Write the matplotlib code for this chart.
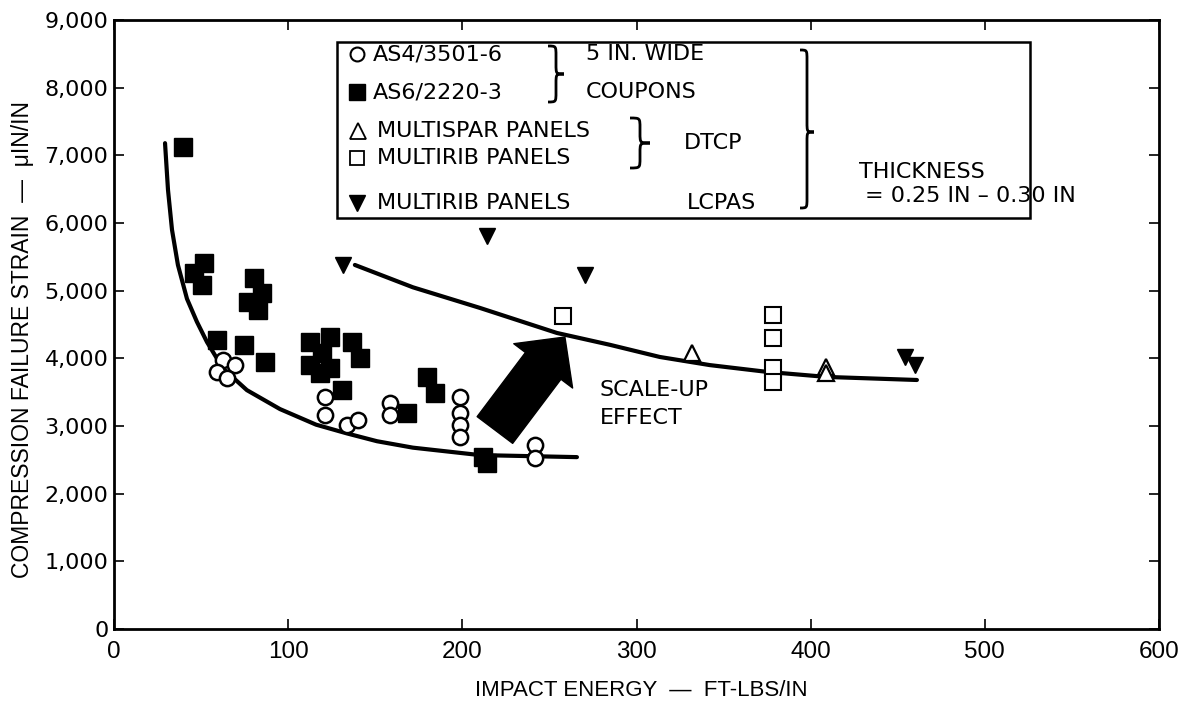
import matplotlib
matplotlib.use("Agg")
import matplotlib.pyplot as plt
from matplotlib.patches import Rectangle, FancyArrowPatch, ArrowStyle, PathPatch
from matplotlib.path import Path
from matplotlib.lines import Line2D
from matplotlib.ticker import FuncFormatter

# ---------------- data ----------------
# AS4/3501-6, 5 in. wide coupons (open circles)
as4_energy = [62.6, 59.1, 69.5, 64.9, 121.0, 121.0, 133.8, 140.0, 158.4, 158.4,
              198.6, 198.6, 198.6, 198.6, 242.0, 242.0]
as4_strain = [3975, 3800, 3900, 3710, 3430, 3160, 3015, 3090, 3340, 3160,
              3430, 3190, 3010, 2840, 2720, 2530]

# AS6/2220-3, 5 in. wide coupons (filled squares)
as6_energy = [39.6, 51.7, 45.9, 50.5, 80.4, 85.0, 76.9, 82.7, 59.1, 74.6, 86.7,
              112.5, 124.0, 119.4, 112.5, 124.0, 136.6, 141.2, 130.9, 118.0,
              179.7, 184.3, 168.2, 212.0, 214.0]
as6_strain = [7120, 5410, 5260, 5080, 5190, 4965, 4830, 4715, 4270, 4200, 3945,
              4240, 4315, 4080, 3900, 3855, 4240, 4005, 3530, 3780,
              3725, 3490, 3190, 2540, 2460]

# DTCP multispar panels (open triangles)
multispar_energy = [331.8, 408.7, 408.7]
multispar_strain = [4080, 3870, 3780]

# DTCP multirib panels (open squares)
multirib_energy = [257.8, 378.3, 378.3, 378.3, 378.3]
multirib_strain = [4620, 4640, 4300, 3855, 3650]

# LCPAS multirib panels (filled down triangles)
lcpas_energy = [131.5, 214.0, 270.4, 454.0, 459.8]
lcpas_strain = [5380, 5810, 5230, 4020, 3900]

# hand-faired trend lines
coupon_fit_energy = [29.3, 31.0, 33.3, 36.7, 41.9, 47.6, 53.4, 62.6, 76.3, 95.3,
                     116.0, 133.8, 151.0, 171.6, 210.1, 265.8]
coupon_fit_strain = [7180, 6490, 5900, 5380, 4880, 4540, 4240, 3850, 3530, 3250,
                     3020, 2890, 2775, 2680, 2570, 2540]
panel_fit_energy = [138.3, 171.6, 210.1, 254.3, 284.7, 313.4, 342.1, 374.9, 409.3, 461.0]
panel_fit_strain = [5380, 5050, 4745, 4375, 4200, 4020, 3900, 3800, 3725, 3680]

x_ticks = [0, 100, 200, 300, 400, 500, 600]
y_ticks = [0, 1000, 2000, 3000, 4000, 5000, 6000, 7000, 8000, 9000]

# ---------------- figure ----------------
W, H = 1190, 711
fig = plt.figure(figsize=(W / 100, H / 100), dpi=100)


def fx(x):
    return x / W


def fy(y):
    return 1 - y / H


ax = fig.add_axes([fx(114), fy(629), (1159 - 114) / W, (629 - 20) / H])
ax.set_xlim(0, 600)
ax.set_ylim(0, 9000)
ax.set_xticks(x_ticks)
ax.set_yticks(y_ticks)
ax.yaxis.set_major_formatter(FuncFormatter(lambda v, p: f"{int(v):,}"))
for s in ax.spines.values():
    s.set_linewidth(2.0)
ax.tick_params(direction="in", length=7, width=1.2, top=True, right=True)
ax.tick_params(axis="x", pad=9)
ax.tick_params(axis="y", pad=4)

narrow = "Liberation Sans"
for lab in ax.get_xticklabels():
    lab.set_fontfamily(narrow)
    lab.set_fontsize(17.5)
for lab in ax.get_yticklabels():
    lab.set_fontfamily("DejaVu Sans")
    lab.set_fontsize(16)

ax.set_xlabel("IMPACT ENERGY  —  FT-LBS/IN", fontsize=16, family=narrow)
ax.xaxis.label.set_va("center")
ax.xaxis.set_label_coords((641 - 114) / 1045, (629 - 690) / 609)
ax.set_ylabel("COMPRESSION FAILURE STRAIN  —  μIN/IN", fontsize=16.5, family=narrow)
ax.yaxis.label.set_va("center")
ax.yaxis.set_label_coords((22 - 114) / 1045, (629 - 339) / 609)

# trend lines
ax.plot(coupon_fit_energy, coupon_fit_strain, color="black", lw=3,
        solid_capstyle="round", solid_joinstyle="round", zorder=2)
ax.plot(panel_fit_energy, panel_fit_strain, color="black", lw=3,
        solid_capstyle="round", solid_joinstyle="round", zorder=2)

# data points
ax.plot(as6_energy, as6_strain, "s", ms=12.5, color="black", zorder=3)
ax.plot(as4_energy, as4_strain, "o", ms=11, mfc="white", mec="black", mew=1.8, zorder=4)
ax.plot(multispar_energy, multispar_strain, "^", ms=12, mfc="white", mec="black", mew=1.6, zorder=4)
ax.plot(multirib_energy, multirib_strain, "s", ms=11, mfc="white", mec="black", mew=1.5, zorder=4)
ax.plot(lcpas_energy, lcpas_strain, "v", ms=12, color="black", zorder=4)

# scale-up arrow
arrow = FancyArrowPatch(posA=(218.7, 2941), posB=(258.9, 4315),
                        arrowstyle=ArrowStyle.Simple(head_length=26, head_width=53, tail_width=32),
                        mutation_scale=1, shrinkA=0, shrinkB=0,
                        color="black", zorder=5)
ax.add_patch(arrow)
ax.text(279, 3530, "SCALE-UP", fontsize=16, va="center", ha="left")
ax.text(279, 3117, "EFFECT", fontsize=16, va="center", ha="left")

# ---------------- key box ----------------
fig.add_artist(Rectangle((fx(337), fy(218)), (1030 - 337) / W, (218 - 42) / H,
                         transform=fig.transFigure, fill=True, facecolor="white",
                         edgecolor="black", lw=1.8, zorder=6))


def brace(x0, x1, y0, y1, ym):
    xm = (x0 + x1) / 2
    r = min(10, (y1 - y0) / 5)
    pts = [(x0, y0), (xm, y0), (xm, y0), (xm, y0 + r),
           (xm, ym - r),
           (xm, ym), (xm, ym), (x1, ym),
           (xm, ym), (xm, ym), (xm, ym + r),
           (xm, y1 - r),
           (xm, y1), (xm, y1), (x0, y1)]
    codes = [Path.MOVETO, Path.CURVE4, Path.CURVE4, Path.CURVE4,
             Path.LINETO,
             Path.CURVE4, Path.CURVE4, Path.CURVE4,
             Path.CURVE4, Path.CURVE4, Path.CURVE4,
             Path.LINETO,
             Path.CURVE4, Path.CURVE4, Path.CURVE4]
    verts = [(fx(a), fy(b)) for a, b in pts]
    fig.add_artist(PathPatch(Path(verts, codes), transform=fig.transFigure,
                             fill=False, lw=2.0, edgecolor="black", zorder=7))


brace(548, 564, 46, 102, 74)
brace(630, 650, 118, 168, 143)
brace(800, 814, 50, 208, 132)


def key_marker(x, y, marker, **kw):
    fig.add_artist(Line2D([fx(x)], [fy(y)], marker=marker, linestyle="none",
                          transform=fig.transFigure, zorder=7, **kw))


key_marker(357, 54, "o", ms=10, mfc="white", mec="black", mew=1.5)
key_marker(357, 92, "s", ms=11, color="black")
key_marker(358, 131, "^", ms=11, mfc="white", mec="black", mew=1.3)
key_marker(357, 158, "s", ms=10, mfc="white", mec="black", mew=1.3)
key_marker(357, 203, "v", ms=11, color="black")

kt = dict(fontsize=16, va="center", ha="left", zorder=7)
fig.text(fx(373), fy(54), "AS4/3501-6", **kt)
fig.text(fx(373), fy(92), "AS6/2220-3", **kt)
fig.text(fx(586), fy(54), "5 IN. WIDE", **kt)
fig.text(fx(586), fy(92), "COUPONS", **kt)
fig.text(fx(377), fy(131), "MULTISPAR PANELS", **kt)
fig.text(fx(377), fy(158), "MULTIRIB PANELS", **kt)
fig.text(fx(684), fy(143), "DTCP", **kt)
fig.text(fx(377), fy(203), "MULTIRIB PANELS", **kt)
fig.text(fx(687), fy(203), "LCPAS", **kt)
fig.text(fx(922), fy(172), "THICKNESS", fontsize=16, va="center", ha="center", zorder=7)
fig.text(fx(865), fy(196), "= 0.25 IN – 0.30 IN", **kt)

fig.savefig("out.png", dpi=100)
